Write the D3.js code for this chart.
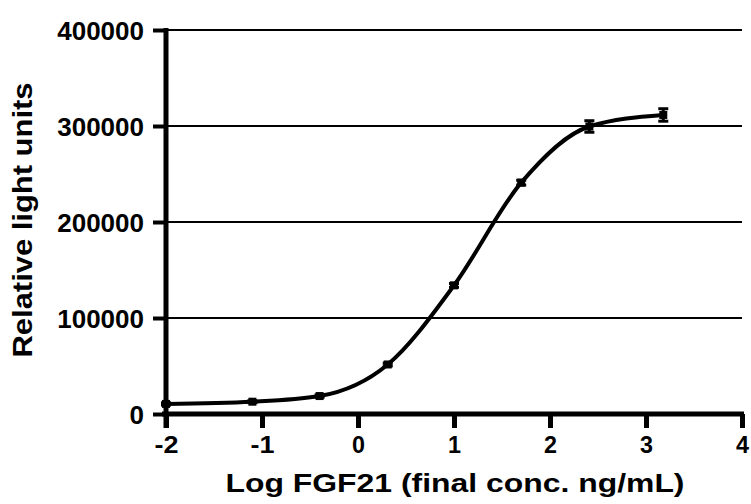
<!DOCTYPE html>
<html>
<head>
<meta charset="utf-8">
<script src="https://cdn.jsdelivr.net/npm/d3@7"></script>
<style>
  body { margin: 0; background: #fff; }
  text { font-family: "Liberation Sans", Arial, sans-serif; font-weight: bold; fill: #000; }
</style>
</head>
<body>
<div id="chart"></div>
<script>
// data (log conc., RLU, sd)
var logConc = [-2, -1.1, -0.4, 0.31, 1.0, 1.7, 2.41, 3.18];
var rlu = [10500, 12800, 18700, 51600, 134000, 241000, 299500, 311500];
var sd = [1200, 1000, 1200, 1500, 2000, 2500, 6000, 6500];
var xTicks = [-2, -1, 0, 1, 2, 3, 4];
var yTicks = [0, 100000, 200000, 300000, 400000];

var W = 751, H = 504;
var margin = {top: 30, right: 9, bottom: 90, left: 166},
    width = W - margin.left - margin.right,
    height = H - margin.top - margin.bottom;

var svg = d3.select("#chart").append("svg")
    .attr("width", W)
    .attr("height", H);

var g = svg.append("g")
    .attr("transform", "translate(" + margin.left + "," + margin.top + ")");

var x = d3.scaleLinear().domain([-2, 4]).range([0, width]);
var y = d3.scaleLinear().domain([0, 400000]).range([height, 0]);

// gridlines
g.selectAll(".grid")
    .data(yTicks.filter(function(d) { return d > 0; }))
    .enter().append("line")
    .attr("x1", 0)
    .attr("x2", width)
    .attr("y1", function(d) { return y(d); })
    .attr("y2", function(d) { return y(d); })
    .attr("stroke", "#000")
    .attr("stroke-width", 2);

// y axis
var yAxis = g.append("g")
    .call(d3.axisLeft(y).tickValues(yTicks).tickFormat(function(d) { return String(d); }).tickSize(13).tickPadding(9));
yAxis.select(".domain").attr("stroke-width", 5).attr("d", "M0," + (height + 14) + "V" + (-2));
yAxis.selectAll(".tick line").attr("stroke-width", 4);
yAxis.selectAll(".tick text").style("font-size", "26px").attr("dy", "0.36em");

// x axis
var xAxis = g.append("g")
    .attr("transform", "translate(0," + height + ")")
    .call(d3.axisBottom(x).tickValues(xTicks).tickFormat(function(d) { return String(d); }).tickSize(14).tickPadding(8));
xAxis.select(".domain").attr("stroke-width", 5).attr("d", "M-4,0H" + (width + 2));
xAxis.selectAll(".tick line").attr("stroke-width", 5);
xAxis.selectAll(".tick text").style("font-size", "24px")
    .attr("textLength", function(d) { return d < 0 ? 24 : 13; })
    .attr("lengthAdjust", "spacingAndGlyphs");

// fitted curve drawn through the points
var line = d3.line()
    .x(function(d, i) { return x(logConc[i]); })
    .y(function(d) { return y(d); })
    .curve(d3.curveMonotoneX);

g.append("path")
    .datum(rlu)
    .attr("d", line)
    .attr("fill", "none")
    .attr("stroke", "#000")
    .attr("stroke-width", 4);

// error bars
var eb = g.selectAll(".eb")
    .data(rlu)
    .enter().append("g");
eb.append("line")
    .attr("x1", function(d, i) { return x(logConc[i]); })
    .attr("x2", function(d, i) { return x(logConc[i]); })
    .attr("y1", function(d, i) { return y(d - sd[i]); })
    .attr("y2", function(d, i) { return y(d + sd[i]); })
    .attr("stroke", "#000").attr("stroke-width", 3);
eb.selectAll(".cap")
    .data(function(d, i) { return [[i, d + sd[i]], [i, d - sd[i]]]; })
    .enter().append("line")
    .attr("x1", function(c) { return x(logConc[c[0]]) - 5; })
    .attr("x2", function(c) { return x(logConc[c[0]]) + 5; })
    .attr("y1", function(c) { return y(c[1]); })
    .attr("y2", function(c) { return y(c[1]); })
    .attr("stroke", "#000").attr("stroke-width", 3);

// square markers
g.selectAll(".pt")
    .data(rlu)
    .enter().append("rect")
    .attr("x", function(d, i) { return x(logConc[i]) - 4; })
    .attr("y", function(d) { return y(d) - 4; })
    .attr("width", 8)
    .attr("height", 8)
    .attr("fill", "#000");

// axis titles
svg.append("text")
    .attr("x", 455)
    .attr("y", 492)
    .attr("text-anchor", "middle")
    .attr("textLength", 459)
    .attr("lengthAdjust", "spacingAndGlyphs")
    .style("font-size", "26px")
    .text("Log FGF21 (final conc. ng/mL)");

svg.append("text")
    .attr("transform", "translate(32,220) rotate(-90)")
    .attr("text-anchor", "middle")
    .attr("textLength", 275)
    .attr("lengthAdjust", "spacingAndGlyphs")
    .style("font-size", "28px")
    .text("Relative light units");
</script>
</body>
</html>
